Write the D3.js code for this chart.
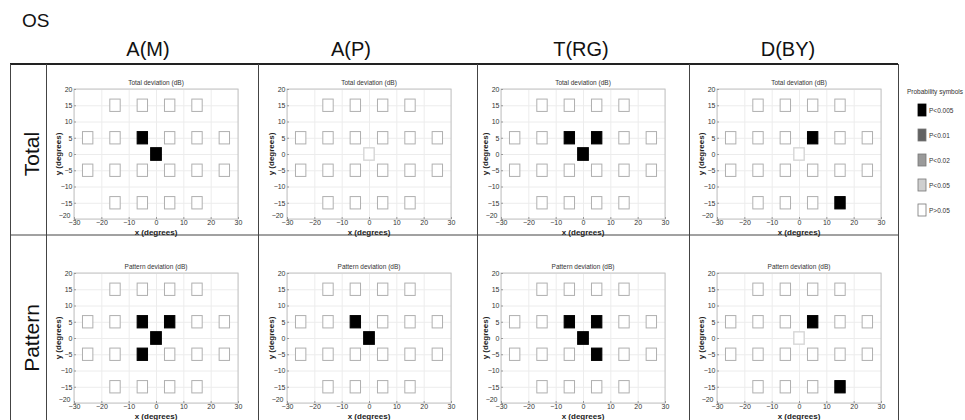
<!DOCTYPE html>
<html>
<head>
<meta charset="utf-8">
<script src="https://cdn.jsdelivr.net/npm/d3@7"></script>
<style>
  body { margin: 0; background: #fff; }
  svg { font-family: "Liberation Sans", Arial, sans-serif; }
  .tick text { fill: #333; }
</style>
</head>
<body>
<div class="canvas"></div>
<script>
// ---- data ----
const columns = ['A(M)', 'A(P)', 'T(RG)', 'D(BY)'];
const rows = ['Total', 'Pattern'];
const panelTitles = ['Total deviation (dB)', 'Pattern deviation (dB)'];

// test locations in degrees (x, y)
const testPoints = [
  [-15, 15], [-5, 15], [5, 15], [15, 15],
  [-25, 5], [-15, 5], [-5, 5], [5, 5], [15, 5], [25, 5],
  [-25, -5], [-15, -5], [-5, -5], [5, -5], [15, -5], [25, -5],
  [-15, -15], [-5, -15], [5, -15], [15, -15],
  [0, 0]
];

const probLabels = ['P<0.005', 'P<0.01', 'P<0.02', 'P<0.05', 'P>0.05'];
const probColors = ['#000000', '#626262', '#9a9a9a', '#cfcfcf', '#ffffff'];

// significant locations per panel: [x, y, level index]; every other point is P>0.05
const totalAM = [[-5, 5, 0], [0, 0, 0]];
const totalAP = [];
const totalTRG = [[-5, 5, 0], [5, 5, 0], [0, 0, 0]];
const totalDBY = [[5, 5, 0], [15, -15, 0]];
const patternAM = [[-5, 5, 0], [5, 5, 0], [0, 0, 0], [-5, -5, 0]];
const patternAP = [[-5, 5, 0], [0, 0, 0]];
const patternTRG = [[-5, 5, 0], [5, 5, 0], [0, 0, 0], [5, -5, 0]];
const patternDBY = [[5, 5, 0], [15, -15, 0]];

const panels = [
  [totalAM, totalAP, totalTRG, totalDBY],
  [patternAM, patternAP, patternTRG, patternDBY]
];

const xTicks = [-30, -20, -10, 0, 10, 20, 30];
const yTicks = [20, 15, 10, 5, 0, -5, -10, -15, -20];

// ---- layout ----
const W = 965, H = 420;
const tableLeft = 10, tableRight = 898, tableTop = 64, rowSplit = 235;
const colLines = [46, 258, 477, 689];
const headX = [148, 351, 581, 788];
const axLeft = [74, 287, 501, 717];
const axTop = [89, 273];
const axW = 164, axH = 130;

const svg = d3.select('.canvas').append('svg').attr('width', W).attr('height', H);

svg.append('text').attr('x', 22).attr('y', 27)
  .attr('font-size', 19).attr('fill', '#111').text('OS');

// column headers
svg.selectAll('.colhead').data(columns).enter().append('text')
  .attr('class', 'colhead')
  .attr('x', (d, i) => headX[i])
  .attr('y', 56)
  .attr('text-anchor', 'middle')
  .attr('font-size', 20)
  .attr('fill', '#111')
  .text(d => d);

// table lines
const lineColor = '#444';
const table = svg.append('g');
table.append('line').attr('x1', tableLeft).attr('x2', tableRight)
  .attr('y1', tableTop).attr('y2', tableTop).attr('stroke', '#222').attr('stroke-width', 2);
table.append('line').attr('x1', tableLeft).attr('x2', tableRight)
  .attr('y1', rowSplit).attr('y2', rowSplit).attr('stroke', lineColor);
[tableLeft, ...colLines, tableRight].forEach(x => {
  table.append('line').attr('x1', x + 0.5).attr('x2', x + 0.5)
    .attr('y1', tableTop).attr('y2', H).attr('stroke', lineColor);
});

// row labels
svg.selectAll('.rowhead').data(rows).enter().append('text')
  .attr('class', 'rowhead')
  .attr('transform', (d, i) => `translate(39, ${axTop[i] + axH / 2}) rotate(-90)`)
  .attr('text-anchor', 'middle')
  .attr('font-size', 21)
  .attr('fill', '#111')
  .text(d => d);

const x = d3.scaleLinear().domain([-30, 30]).range([0, axW]);
const y = d3.scaleLinear().domain([-20, 20]).range([axH, 0]);
const fmt = d => (d < 0 ? '\u2212' + Math.abs(d) : d);

const levelAt = (sig, p) => {
  const hit = sig.find(s => s[0] === p[0] && s[1] === p[1]);
  return hit ? hit[2] : 4;
};

rows.forEach((row, r) => {
  columns.forEach((col, c) => {
    const g = svg.append('g')
      .attr('transform', `translate(${axLeft[c]}, ${axTop[r]})`);

    // grid
    g.append('g').attr('transform', `translate(0, ${axH})`)
      .call(d3.axisBottom(x).tickValues(xTicks).tickSize(-axH).tickFormat(''))
      .call(a => a.selectAll('line').attr('stroke', '#ececec'))
      .call(a => a.select('.domain').remove());
    g.append('g')
      .call(d3.axisLeft(y).tickValues(yTicks).tickSize(-axW).tickFormat(''))
      .call(a => a.selectAll('line').attr('stroke', '#ececec'))
      .call(a => a.select('.domain').remove());

    g.append('rect').attr('width', axW).attr('height', axH)
      .attr('fill', 'none').attr('stroke', '#c4c4c4');

    // tick labels
    g.append('g').attr('transform', `translate(0, ${axH})`)
      .call(d3.axisBottom(x).tickValues(xTicks).tickSize(-2).tickPadding(1.5).tickFormat(fmt))
      .call(a => a.selectAll('line').attr('stroke', '#999'))
      .call(a => a.select('.domain').remove())
      .call(a => a.selectAll('text').attr('font-size', 7).attr('font-family', null));
    g.append('g')
      .call(d3.axisLeft(y).tickValues(yTicks).tickSize(-2).tickPadding(1.5).tickFormat(fmt))
      .call(a => a.selectAll('line').attr('stroke', '#999'))
      .call(a => a.select('.domain').remove())
      .call(a => a.selectAll('text').attr('font-size', 7).attr('font-family', null))
      // lowest label sits raised above the x-axis corner, as in the figure
      .call(a => a.selectAll('.tick').filter(d => d === -20).select('text').attr('dy', '-0.2em').attr('x', -3.5));

    g.append('text').attr('x', axW / 2).attr('y', -4)
      .attr('text-anchor', 'middle').attr('font-size', 6.5).attr('fill', '#333')
      .text(panelTitles[r]);
    g.append('text').attr('x', axW / 2).attr('y', axH + 15.5)
      .attr('text-anchor', 'middle').attr('font-size', 8).attr('font-weight', 'bold')
      .attr('fill', '#222').text('x (degrees)');
    g.append('text')
      .attr('transform', `translate(-13.5, ${axH / 2}) rotate(-90)`)
      .attr('text-anchor', 'middle').attr('font-size', 8).attr('font-weight', 'bold')
      .attr('fill', '#222').text('y (degrees)');

    // probability squares
    const sig = panels[r][c];
    g.selectAll('.loc').data(testPoints).enter().append('rect')
      .attr('class', 'loc')
      .attr('x', d => x(d[0] - 1.9))
      .attr('y', d => y(d[1] + 1.9))
      .attr('width', x(1.9) - x(-1.9))
      .attr('height', y(-1.9) - y(1.9))
      .attr('fill', d => probColors[levelAt(sig, d)])
      .attr('stroke', d => {
        const lv = levelAt(sig, d);
        if (lv === 0) return '#000';
        return d[0] === 0 && d[1] === 0 ? '#d6d6d6' : '#b0b0b0';
      })
      .attr('stroke-width', d => (d[0] === 0 && d[1] === 0 ? 1.4 : 1));
  });
});

// legend
const legend = svg.append('g').attr('transform', 'translate(907, 0)');
legend.append('text').attr('x', 0).attr('y', 94)
  .attr('font-size', 6.5).attr('fill', '#333').text('Probability symbols');
const ly = d3.scalePoint().domain(probLabels).range([110, 210]);
legend.selectAll('.lsym').data(probLabels).enter().append('rect')
  .attr('x', 11).attr('y', d => ly(d) - 6)
  .attr('width', 8).attr('height', 12)
  .attr('fill', (d, i) => probColors[i])
  .attr('stroke', (d, i) => (i === 0 ? '#000' : '#777'))
  .attr('stroke-width', 0.8);
legend.selectAll('.ltxt').data(probLabels).enter().append('text')
  .attr('x', 22).attr('y', d => ly(d) + 2.5)
  .attr('font-size', 6.5).attr('fill', '#333').text(d => d);
</script>
</body>
</html>
